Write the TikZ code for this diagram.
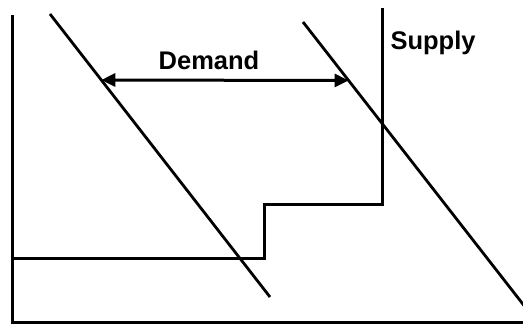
\documentclass[tikz,border=0pt]{standalone}
\usepackage{fontspec}
\setmainfont{Liberation Sans}
\usetikzlibrary{arrows.meta, calc}

\begin{document}
\begin{tikzpicture}[x=1pt, y=1pt, line width=3pt,
    curve/.style={line width=2.8pt, line cap=butt},
    lbl/.style={font=\fontsize{25.5}{30}\selectfont\bfseries, inner sep=0pt}]
        \useasboundingbox (0,0) rectangle (523,324);
        % Achsen
        \draw (12,309) -- (12,0);
        \draw (10.5,1.5) -- (523,1.5);

        % Nachfragekurven
        \coordinate (d1top) at (50,310);
        \coordinate (d1bot) at (270,27);
        \coordinate (d2top) at (303,302);
        \coordinate (d2bot) at (524,18.5);
        \draw[curve] (d1top) -- (d1bot);
        \draw[curve] (d2top) -- (d2bot);

        % Angebot (Stufen)
        \draw[line join=miter] (12,65) -- (264,65) -- (264,119) -- (382,119) -- (382,316);

        % Verschiebung der Nachfrage
        \coordinate (shiftL) at ($(d1top)!0.2332!(d1bot)$);
        \coordinate (shiftR) at ($(d2top)!0.2064!(d2bot)$);
        \draw[{Triangle[length=14pt, width=13pt]}-{Triangle[length=14pt, width=13pt]}] (shiftL) -- (shiftR);

        % Beschriftung
        \node[lbl, anchor=base] (demand) at (209,254) {Demand};
        \node[lbl, anchor=base west] (supply) at (389,274) {Supply};
    \end{tikzpicture}
\end{document}
